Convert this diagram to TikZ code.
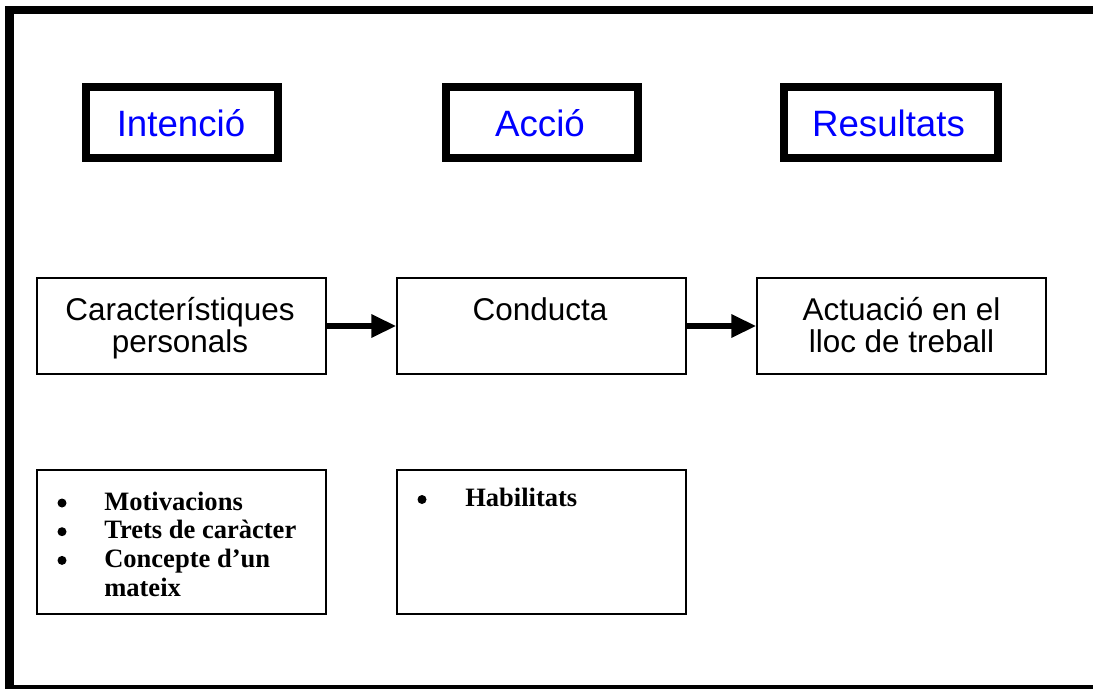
\documentclass[tikz,border=0pt]{standalone}
\usepackage{fontspec}
\setmainfont{Liberation Serif}
\newfontfamily\arialf{Liberation Sans}
\usetikzlibrary{arrows.meta}
\begin{document}
\begin{tikzpicture}[x=0.75pt,y=-0.75pt,
  headbox/.style={draw, line width=6pt, inner sep=0pt, minimum height=53.25pt},
  thinbox/.style={draw, line width=1pt, inner sep=0pt, minimum width=216.75pt},
  headtxt/.style={anchor=base, inner sep=0pt, text=blue, font=\arialf\fontsize{27.5}{33}\selectfont},
  midtxt/.style={anchor=base, inner sep=0pt, font=\arialf\fontsize{23.6}{28}\selectfont},
  listtxt/.style={anchor=base west, inner sep=0pt, font=\bfseries\fontsize{19.9}{24}\selectfont},
  flowarrow/.style={line width=4.5pt, -{Triangle[length=18.75pt, width=16.5pt]}},
  bulletdot/.style={fill=black}
]
\useasboundingbox (0,0) rectangle (1093,689);
\fill[white] (0,0) rectangle (1093,689);
\begin{scope}
  \clip (0,0) rectangle (1093,689);
  \draw[line width=6.375pt] (1110,10) -- (9.5,10) -- (9.5,689) -- (1110,689);
\end{scope}

% heading boxes
\node[headbox, minimum width=144pt] (hint) at (182,122.5) {};
\node[headbox, minimum width=144pt] (hacc) at (542,122.5) {};
\node[headbox, minimum width=160.5pt] (hres) at (891,122.5) {};
\node[headtxt] (tint) at (181,136.5) {Intenció};
\node[headtxt] (tacc) at (540,136.5) {Acció};
\node[headtxt] (tres) at (888.5,136.5) {Resultats};

% middle row
\node[thinbox, minimum height=72pt] (car) at (181.5,326) {};
\node[thinbox, minimum height=72pt] (con) at (541.5,326) {};
\node[thinbox, minimum height=72pt] (act) at (901.5,326) {};
\node[midtxt] (car1) at (180,320) {Característiques};
\node[midtxt] (car2) at (180,352) {personals};
\node[midtxt] (con1) at (540,320) {Conducta};
\node[midtxt] (act1) at (901.5,320) {Actuació en el};
\node[midtxt] (act2) at (901.5,352) {lloc de treball};

\draw[flowarrow] (car.east) -- (con.west);
\draw[flowarrow] (con.east) -- (act.west);

% bottom row
\node[thinbox, minimum height=108pt] (lst1) at (181.5,542) {};
\node[thinbox, minimum height=108pt] (lst2) at (541.5,542) {};

\fill[bulletdot] (62,503) circle[radius=4.5];
\fill[bulletdot] (62,531.7) circle[radius=4.5];
\fill[bulletdot] (62,560.4) circle[radius=4.5];
\node[listtxt] (l1) at (104,510) {Motivacions};
\node[listtxt] (l2) at (104,538.7) {Trets de caràcter};
\node[listtxt] (l3) at (104,567.4) {Concepte d’un};
\node[listtxt] (l4) at (104,596) {mateix};

\fill[bulletdot] (422,499.5) circle[radius=4.5];
\node[listtxt] (h1) at (465,506.5) {Habilitats};
\end{tikzpicture}
\end{document}
